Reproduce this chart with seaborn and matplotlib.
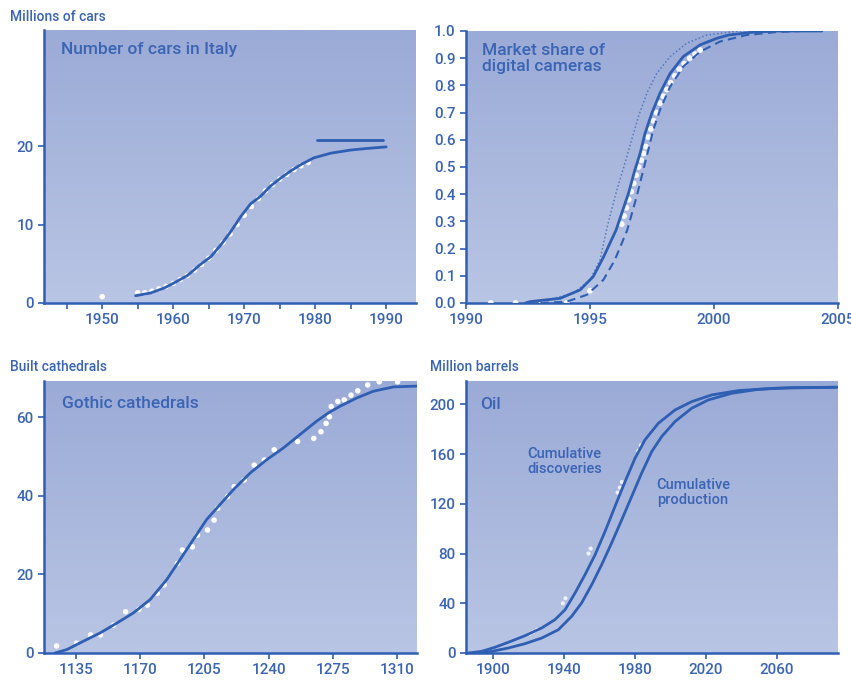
import numpy as np
import matplotlib
matplotlib.use("Agg")
import matplotlib.pyplot as plt
from matplotlib.colors import LinearSegmentedColormap
import seaborn as sns

# ---- cars in Italy (millions) ----
cars_fit_year = [1954.7, 1956.8, 1958.7, 1960.1, 1962.0, 1963.8, 1965.3, 1966.7, 1968.1, 1969.5, 1970.9,
                 1972.3, 1973.7, 1975.1, 1976.5, 1977.9, 1979.8, 1982.2, 1985.0, 1987.3, 1990.0]
cars_fit_val = [0.93, 1.27, 1.9, 2.55, 3.5, 4.9, 5.9, 7.4, 9.1, 11.0, 12.65,
                13.6, 14.9, 15.9, 16.8, 17.6, 18.5, 19.1, 19.5, 19.7, 19.9]
cars_sat_year = [1980.3, 1989.6]
cars_sat_val = [20.8, 20.8]
cars_obs_year = [1950, 1955, 1956, 1957, 1958, 1959, 1960, 1961, 1962, 1963, 1964, 1965, 1966, 1967,
                 1968, 1969, 1970, 1971, 1972, 1973, 1974, 1975, 1976, 1977, 1978, 1979]
cars_obs_val = [0.8, 1.3, 1.3, 1.5, 1.8, 2.1, 2.5, 3.0, 3.5, 4.2, 4.9, 5.7, 6.7, 7.7,
                8.8, 10.0, 11.2, 12.3, 13.3, 14.3, 15.1, 15.8, 16.4, 17.0, 17.5, 17.9]

# ---- digital cameras market share ----
cam_solid_year = [1992.4, 1992.58, 1993.79, 1994.6, 1995.13, 1995.55, 1996.05, 1996.55, 1996.81, 1997.02,
                  1997.22, 1997.49, 1997.82, 1998.23, 1998.76, 1999.44, 2000.11, 2000.58, 2001.5, 2002.5,
                  2004.35]
cam_solid_val = [0.0, 0.005, 0.017, 0.048, 0.097, 0.17, 0.268, 0.403, 0.489, 0.55,
                 0.624, 0.697, 0.771, 0.844, 0.906, 0.949, 0.973, 0.985, 0.995, 1.0,
                 1.0]
cam_dot_year = [1992.4, 1993.3, 1994.33, 1995.0, 1995.4, 1995.72, 1996.08, 1996.41, 1996.68, 1996.95,
                1997.29, 1997.69, 1998.23, 1998.9, 1999.7, 2001.0, 2003.0]
cam_dot_val = [0.0, 0.012, 0.036, 0.085, 0.158, 0.29, 0.415, 0.514, 0.60, 0.685,
               0.771, 0.844, 0.906, 0.955, 0.985, 1.0, 1.003]
cam_dash_year = [1993.0, 1994.06, 1994.87, 1995.54, 1996.0, 1996.5, 1996.88, 1997.15, 1997.35, 1997.55,
                 1997.82, 1998.23, 1998.76, 1999.44, 2000.24, 2001.3, 2002.5, 2003.5]
cam_dash_val = [0.0, 0.005, 0.03, 0.085, 0.158, 0.268, 0.391, 0.489, 0.5625, 0.636,
                0.71, 0.795, 0.869, 0.924, 0.961, 0.985, 0.996, 1.0]
cam_obs_year = [1991.0, 1992.0, 1993.05, 1994.06, 1995.0,
                1996.28, 1996.37, 1996.46, 1996.56, 1996.66, 1996.76, 1996.86, 1996.96, 1997.06, 1997.16,
                1997.25, 1997.35, 1997.45, 1997.56, 1997.68, 1997.82, 1997.96, 1998.1, 1998.25, 1998.42,
                1998.6, 1998.8, 1999.02, 1999.24, 1999.44]
cam_obs_val = [0.0, 0.0, 0.0, 0.0, 0.045,
               0.29, 0.32, 0.35, 0.38, 0.41, 0.44, 0.47, 0.50, 0.525, 0.55,
               0.575, 0.61, 0.64, 0.67, 0.70, 0.735, 0.76, 0.785, 0.81, 0.835,
               0.86, 0.88, 0.90, 0.915, 0.93]

# ---- gothic cathedrals ----
cath_fit_year = [1123.5, 1129.9, 1139.0, 1148.1, 1157.2, 1166.3, 1175.4, 1184.5, 1191.8, 1199.0, 1206.3,
                 1213.6, 1220.9, 1230.0, 1239.1, 1248.2, 1257.2, 1266.3, 1272.7, 1279.1, 1288.2, 1297.2,
                 1308.2, 1321.0]
cath_fit_val = [0.0, 0.85, 3.0, 5.1, 7.6, 10.2, 13.6, 18.7, 23.8, 28.9, 34.0,
                37.8, 41.6, 45.8, 49.2, 52.2, 55.6, 59.0, 61.1, 62.8, 64.9, 66.6,
                67.7, 67.9]
cath_obs_year = [1124.4, 1135.3, 1142.9, 1148.3, 1155.5, 1162.0, 1169.3, 1173.9, 1179.3, 1183.0, 1190.3,
                 1193.0, 1198.5, 1201.2, 1206.7, 1210.3, 1212.2, 1217.6, 1221.3, 1226.7, 1232.2, 1237.7,
                 1243.1, 1255.9, 1264.7, 1268.6, 1271.4, 1273.2, 1274.2, 1277.8, 1281.3, 1285.0, 1288.7,
                 1294.1, 1300.4, 1310.4]
cath_obs_val = [1.8, 2.5, 4.6, 4.6, 7.1, 10.5, 11.1, 12.2, 15.2, 17.3, 22.8,
                26.2, 27.0, 30.0, 31.3, 33.8, 36.8, 39.8, 42.3, 44.0, 47.8, 49.1,
                51.7, 53.8, 54.6, 56.3, 58.4, 60.1, 62.7, 64.0, 64.4, 65.6, 66.7,
                68.2, 69.0, 69.0]

# ---- oil (million barrels) ----
disc_year = [1886.3, 1893.8, 1901.3, 1908.8, 1918.2, 1927.6, 1935.1, 1940.8, 1946.4, 1952.0, 1957.7,
             1963.3, 1968.9, 1974.6, 1980.2, 1985.8, 1993.3, 2002.7, 2012.1, 2023.4, 2038.4, 2059.1, 2093.8]
disc_val = [0.0, 1.3, 4.6, 8.6, 13.9, 20.1, 26.8, 34.8, 48.2, 62.9, 79.0,
            97.7, 117.8, 137.9, 156.6, 171.4, 184.7, 195.4, 202.1, 207.5, 211.0, 212.9, 213.7]
prod_year = [1890.0, 1899.4, 1908.8, 1918.2, 1927.6, 1937.0, 1944.5, 1950.1, 1955.8, 1961.4, 1967.0,
             1972.7, 1978.3, 1983.9, 1989.6, 1995.2, 2002.7, 2012.1, 2021.5, 2034.6, 2049.7, 2068.5, 2093.8]
prod_val = [0.0, 1.3, 4.0, 7.5, 12.0, 18.7, 29.5, 40.2, 54.9, 71.0, 88.4,
            107.1, 125.8, 144.6, 162.0, 174.0, 186.1, 196.8, 203.5, 208.8, 212.0, 213.4, 213.7]
oil_obs_year = [1921.0, 1923.0, 1925.0, 1939.5, 1941.0, 1954.0, 1955.2, 1970.4, 1971.6, 1972.8, 1982.0, 1983.5]
oil_obs_val = [15.5, 17.0, 18.7, 40.0, 44.0, 80.0, 84.0, 129.0, 133.0, 137.5, 162.5, 167.0]

BLUE = "#2f5fb3"
TXT = "#3a64b4"
grad_cmap = LinearSegmentedColormap.from_list("bg", ["#b9c5e4", "#9babd7"])

sns.set_style("ticks")
plt.rcParams["font.family"] = ["Roboto", "DejaVu Sans"]

fig = plt.figure(figsize=(8.51, 6.80), dpi=100)
W, H = 851, 680


def make_ax(x0, y0, x1, y1):
    return fig.add_axes([x0 / W, 1 - y1 / H, (x1 - x0) / W, (y1 - y0) / H])


def style(ax, xlim, ylim):
    grad = np.linspace(0, 1, 256).reshape(-1, 1)
    ax.imshow(grad, cmap=grad_cmap, origin="lower", extent=[0, 1, 0, 1],
              transform=ax.transAxes, aspect="auto", zorder=0)
    ax.set_xlim(*xlim)
    ax.set_ylim(*ylim)
    for s in ["top", "right"]:
        ax.spines[s].set_visible(False)
    for s in ["left", "bottom"]:
        ax.spines[s].set_color(BLUE)
        ax.spines[s].set_linewidth(1.8)
    ax.tick_params(which="both", colors=BLUE, labelcolor=TXT, labelsize=11, width=1.2, length=4)
    ax.set_xlabel("")
    ax.set_ylabel("")
    for lab in ax.get_xticklabels() + ax.get_yticklabels():
        lab.set_fontweight("medium")


def dots(ax, x, y, s=16, alpha=1.0):
    sns.scatterplot(x=x, y=y, ax=ax, color="white", s=s, edgecolor="none", alpha=alpha, zorder=3)


def line(ax, x, y, **kw):
    sns.lineplot(x=x, y=y, ax=ax, color=BLUE, sort=False, zorder=4, **kw)


# panel 1
ax1 = make_ax(44, 30, 416, 303)
dots(ax1, cars_obs_year, cars_obs_val)
line(ax1, cars_fit_year, cars_fit_val, linewidth=2)
line(ax1, cars_sat_year, cars_sat_val, linewidth=2)
ax1.set_xticks([1950, 1960, 1970, 1980, 1990])
ax1.set_xticks([1945, 1955, 1965, 1975, 1985], minor=True)
ax1.set_yticks([0, 10, 20])
style(ax1, (1941.8, 1994.2), (0, 34.8))
ax1.text(0.046, 0.955, "Number of cars in Italy", transform=ax1.transAxes, color=TXT,
         fontsize=12.5, va="top", ha="left", fontweight="medium")
fig.text(10 / W, 1 - 17 / H, "Millions of cars", color=TXT, fontsize=10, va="center",
         fontweight="medium")

# panel 2
ax2 = make_ax(466, 31, 838, 303)
dots(ax2, cam_obs_year, cam_obs_val, s=18, alpha=0.9)
line(ax2, cam_dot_year, cam_dot_val, linewidth=1.1, linestyle=(0, (1, 1.5)), alpha=0.7)
line(ax2, cam_solid_year, cam_solid_val, linewidth=2)
line(ax2, cam_dash_year, cam_dash_val, linewidth=1.5, linestyle=(0, (4, 2.5)))
ax2.set_xticks([1990, 1995, 2000, 2005])
ax2.set_yticks(np.round(np.arange(0, 1.01, 0.1), 1))
ax2.set_yticklabels([f"{v:.1f}" for v in np.arange(0, 1.01, 0.1)])
style(ax2, (1990, 2005), (0, 1.0))
ax2.text(0.042, 0.955, "Market share of\ndigital cameras", transform=ax2.transAxes, color=TXT,
         fontsize=12.5, va="top", ha="left", fontweight="medium", linespacing=1.1)

# panel 3
ax3 = make_ax(44, 381, 417, 653)
dots(ax3, cath_obs_year, cath_obs_val)
line(ax3, cath_fit_year, cath_fit_val, linewidth=2)
ax3.set_xticks([1135, 1170, 1205, 1240, 1275, 1310])
ax3.set_yticks([0, 20, 40, 60])
style(ax3, (1117.5, 1321), (0, 69.2))
ax3.text(0.048, 0.945, "Gothic cathedrals", transform=ax3.transAxes, color=TXT,
         fontsize=12.5, va="top", ha="left", fontweight="medium")
fig.text(10 / W, 1 - 367 / H, "Built cathedrals", color=TXT, fontsize=10, va="center",
         fontweight="medium")

# panel 4
ax4 = make_ax(466, 381, 838, 653)
dots(ax4, oil_obs_year, oil_obs_val, s=9, alpha=0.8)
line(ax4, disc_year, disc_val, linewidth=2)
line(ax4, prod_year, prod_val, linewidth=2)
ax4.set_xticks([1900, 1940, 1980, 2020, 2060])
ax4.set_yticks([0, 40, 80, 120, 160, 200])
style(ax4, (1885, 2094.5), (0, 218.7))
ax4.text(0.038, 0.94, "Oil", transform=ax4.transAxes, color=TXT,
         fontsize=12.5, va="top", ha="left", fontweight="medium")
ax4.text(1919.6, 165.6, "Cumulative\ndiscoveries", color=TXT, fontsize=10.5,
         va="top", ha="left", fontweight="medium", linespacing=1.05)
ax4.text(1992.4, 140.5, "Cumulative\nproduction", color=TXT, fontsize=10.5,
         va="top", ha="left", fontweight="medium", linespacing=1.05)
fig.text(430 / W, 1 - 367 / H, "Million barrels", color=TXT, fontsize=10, va="center",
         fontweight="medium")

fig.savefig("out.png", dpi=100)
